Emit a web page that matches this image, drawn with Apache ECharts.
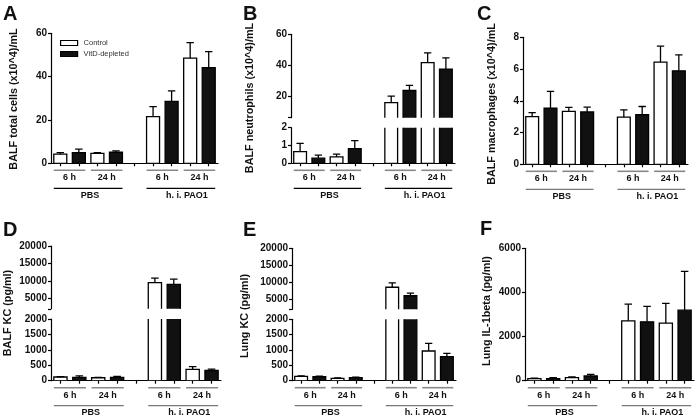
<!DOCTYPE html>
<html><head><meta charset="utf-8">
<script src="https://cdn.jsdelivr.net/npm/echarts@6/dist/echarts.min.js"></script>
<style>html,body{margin:0;padding:0;background:#fff}#c{width:696px;height:419px}</style>
</head><body><div id="c"></div>
<script>
// ---- data ----
const categories = ['PBS 6 h Control','PBS 6 h VitD','PBS 24 h Control','PBS 24 h VitD','',
  'PAO1 6 h Control','PAO1 6 h VitD','PAO1 24 h Control','PAO1 24 h VitD'];
const controlSlots = [0, 2, 5, 7];
const vitdSlots = [1, 3, 6, 8];
const timeLabels = ['6 h', '24 h', '6 h', '24 h'];
const groupLabels = ['PBS', 'h. i. PAO1'];
const seriesNames = ['Control', 'VitD-depleted'];
const panelLetters = ['A', 'B', 'C', 'D', 'E', 'F'];
const yTitles = ['BALF total cells (x10^4)/mL', 'BALF neutrophils (x10^4)/mL', 'BALF macrophages (x10^4)/mL',
  'BALF KC (pg/ml)', 'Lung KC (pg/ml)', 'Lung IL-1beta (pg/ml)'];

// order within each array: PBS 6 h, PBS 24 h, PAO1 6 h, PAO1 24 h
const aControl = [4.2, 4.6, 21.5, 48.5];
const aControlSD = [0.7, 0.3, 4.7, 7.2];
const aVitD = [4.9, 5.1, 28.6, 44.2];
const aVitDSD = [1.6, 0.6, 4.8, 7.3];

const bControl = [0.66, 0.36, 15.8, 41.7];
const bControlSD = [0.46, 0.15, 4.2, 6.3];
const bVitD = [0.29, 0.83, 23.6, 37.5];
const bVitDSD = [0.17, 0.44, 3.3, 7.3];

const cControl = [3.0, 3.33, 2.97, 6.44];
const cControlSD = [0.26, 0.25, 0.46, 1.0];
const cVitD = [3.53, 3.3, 3.12, 5.89];
const cVitDSD = [1.06, 0.3, 0.52, 1.0];

const dControl = [120, 96, 9500, 364];
const dControlSD = [15, 12, 1300, 90];
const dVitD = [107, 107, 9000, 330];
const dVitDSD = [50, 30, 1500, 45];

const eControl = [140, 75, 8500, 967];
const eControlSD = [20, 20, 1300, 250];
const eVitD = [128, 97, 6000, 783];
const eVitDSD = [22, 21, 800, 110];

const fControl = [91, 136, 2712, 2606];
const fControlSD = [30, 31, 758, 894];
const fVitD = [91, 212, 2667, 3197];
const fVitDSD = [45, 76, 697, 1758];

// axis tick labels
const aTicks = [0, 20, 40, 60];
const bTopTicks = [20, 40, 60];
const bBottomTicks = [0, 1, 2];
const cTicks = [0, 2, 4, 6, 8];
const kcTopTicks = [5000, 10000, 15000, 20000];
const kcBottomTicks = [0, 500, 1000, 1500, 2000];
const fTicks = [0, 2000, 4000, 6000];

// ---- layout ----
const FONT = "'Liberation Sans', Arial, Helvetica, sans-serif";
const panels = [
  {ctrl: aControl, ctrlSD: aControlSD, vit: aVitD, vitSD: aVitDSD, left: 51, width: 167,
   segs: [{top: 33.3, height: 130, min: 0, max: 60, ticks: aTicks}],
   letterPos: [3, 4], titlePos: [14, 99], groupColor: '#000'},
  {ctrl: bControl, ctrlSD: bControlSD, vit: bVitD, vitSD: bVitDSD, left: 291, width: 164,
   segs: [{top: 34.3, height: 83.4, min: 6, max: 60, ticks: bTopTicks},
          {top: 127.7, height: 35.6, min: 0, max: 2, ticks: bBottomTicks}],
   letterPos: [243, 4], titlePos: [250, 98], groupColor: '#000'},
  {ctrl: cControl, ctrlSD: cControlSD, vit: cVitD, vitSD: cVitDSD, left: 523, width: 165,
   segs: [{top: 37.3, height: 127, min: 0, max: 8, ticks: cTicks}],
   letterPos: [477, 4], titlePos: [492, 104], groupColor: '#777'},
  {ctrl: dControl, ctrlSD: dControlSD, vit: dVitD, vitSD: dVitDSD, left: 51, width: 170,
   segs: [{top: 246, height: 62.8, min: 2000, max: 20000, ticks: kcTopTicks},
          {top: 319, height: 61.7, min: 0, max: 2000, ticks: kcBottomTicks}],
   letterPos: [3, 220], titlePos: [8, 313], groupColor: '#777'},
  {ctrl: eControl, ctrlSD: eControlSD, vit: eVitD, vitSD: eVitDSD, left: 292, width: 164,
   segs: [{top: 248.3, height: 61, min: 2000, max: 20000, ticks: kcTopTicks},
          {top: 319.3, height: 61.4, min: 0, max: 2000, ticks: kcBottomTicks}],
   letterPos: [243, 220], titlePos: [245, 316], groupColor: '#777'},
  {ctrl: fControl, ctrlSD: fControlSD, vit: fVitD, vitSD: fVitDSD, left: 525, width: 169,
   segs: [{top: 248.3, height: 132.4, min: 0, max: 6000, ticks: fTicks}],
   letterPos: [480, 219], titlePos: [487, 311], groupColor: '#777'}
];

const AX = {color: '#000', width: 1.2};
function barRenderer(fill) {
  return function (params, api) {
    const xi = api.value(0), v = api.value(1);
    const p0 = api.coord([xi, 0]);
    const p1 = api.coord([xi, v]);
    const bw = api.size([1, 0])[0] * 0.7;
    return {type: 'rect', shape: {x: p1[0] - bw / 2, y: p1[1], width: bw, height: p0[1] - p1[1]},
      style: {fill: fill, stroke: '#000', lineWidth: 1.3}};
  };
}
function errRenderer(params, api) {
  const xi = api.value(0), v = api.value(1), e = api.value(2);
  const p1 = api.coord([xi, v]);
  const p2 = api.coord([xi, v + e]);
  const cap = api.size([1, 0])[0] * 0.2;
  return {type: 'group', children: [
    {type: 'line', shape: {x1: p1[0], y1: p1[1], x2: p2[0], y2: p2[1]}, style: {stroke: '#000', lineWidth: 1.3}},
    {type: 'line', shape: {x1: p2[0] - cap, y1: p2[1], x2: p2[0] + cap, y2: p2[1]}, style: {stroke: '#000', lineWidth: 1.3}}
  ]};
}

const grids = [], xAxes = [], yAxes = [], series = [];
panels.forEach(function (p) {
  p.segs.forEach(function (s, si) {
    const gi = grids.length;
    const isBottom = si === p.segs.length - 1;
    if (isBottom) p.bottomIndex = gi;
    grids.push({left: p.left, width: p.width, top: s.top, height: s.height});
    xAxes.push({type: 'category', gridIndex: gi, data: categories, boundaryGap: true,
      axisLine: {show: isBottom, onZero: false, lineStyle: AX},
      axisTick: {show: isBottom, alignWithLabel: true, interval: 0, length: 3, lineStyle: AX},
      axisLabel: {show: false}, splitLine: {show: false}});
    const tickVals = s.ticks.indexOf(s.min) < 0 ? [s.min].concat(s.ticks) : s.ticks;
    yAxes.push({type: 'value', gridIndex: gi, min: s.min, max: s.max,
      axisLine: {show: true, lineStyle: AX},
      axisTick: {show: true, length: 3, lineStyle: AX, customValues: tickVals},
      axisLabel: {customValues: s.ticks, fontFamily: FONT, fontWeight: 'bold', fontSize: 10, color: '#111', margin: 4,
        formatter: function (v) { return String(v); }},
      splitLine: {show: false}});
    const ctrlData = controlSlots.map(function (c, i) { return [c, p.ctrl[i], p.ctrlSD[i]]; });
    const vitData = vitdSlots.map(function (c, i) { return [c, p.vit[i], p.vitSD[i]]; });
    series.push({type: 'custom', name: seriesNames[0], xAxisIndex: gi, yAxisIndex: gi, clip: true,
      itemStyle: {color: '#fff', borderColor: '#000'}, encode: {x: 0, y: 1},
      renderItem: barRenderer('#fff'), data: ctrlData});
    series.push({type: 'custom', name: seriesNames[1], xAxisIndex: gi, yAxisIndex: gi, clip: true,
      itemStyle: {color: '#111', borderColor: '#000'}, encode: {x: 0, y: 1},
      renderItem: barRenderer('#111'), data: vitData});
    series.push({type: 'custom', name: 'SD', xAxisIndex: gi, yAxisIndex: gi, clip: true,
      encode: {x: 0, y: 1}, renderItem: errRenderer, data: ctrlData.concat(vitData)});
  });
});

const chart = echarts.init(document.getElementById('c'), null, {renderer: 'canvas'});
chart.setOption({
  animation: false,
  backgroundColor: '#fff',
  grid: grids, xAxis: xAxes, yAxis: yAxes, series: series,
  legend: {orient: 'vertical', left: 55, top: 34, itemWidth: 17, itemHeight: 5, itemGap: 3, icon: 'rect',
    selectedMode: false,
    textStyle: {fontFamily: FONT, fontSize: 7.5, color: '#333', lineHeight: 8, padding: [0, 0, 0, 1]},
    data: [
      {name: seriesNames[0], itemStyle: {color: '#fff', borderColor: '#000', borderWidth: 1.2}},
      {name: seriesNames[1], itemStyle: {color: '#111', borderColor: '#000', borderWidth: 1.2}}
    ]}
});

// ---- annotations (brackets, titles, letters) computed from the axes ----
const graphics = [];
panels.forEach(function (p, pi) {
  const gi = p.bottomIndex;
  const px = function (i) { return chart.convertToPixel({xAxisIndex: gi}, i); };
  const y0 = chart.convertToPixel({yAxisIndex: gi}, 0);
  const cw = px(1) - px(0);
  const pairs = [[0, 1], [2, 3], [5, 6], [7, 8]];
  pairs.forEach(function (pr, k) {
    const x1 = px(pr[0]) - cw * 0.35, x2 = px(pr[1]) + cw * 0.35;
    graphics.push({type: 'line', shape: {x1: x1, y1: y0 + 7, x2: x2, y2: y0 + 7}, style: {stroke: '#888', lineWidth: 1.6}, silent: true});
    graphics.push({type: 'text', x: (x1 + x2) / 2, y: y0 + 14.5, silent: true,
      style: {text: timeLabels[k], font: 'bold 9px ' + FONT, fill: '#111', textAlign: 'center', textVerticalAlign: 'middle'}});
  });
  [[0, 3], [5, 8]].forEach(function (gr, k) {
    const x1 = px(gr[0]) - cw * 0.35, x2 = px(gr[1]) + cw * 0.35;
    graphics.push({type: 'line', shape: {x1: x1, y1: y0 + 25, x2: x2, y2: y0 + 25}, style: {stroke: p.groupColor, lineWidth: 1.3}, silent: true});
    graphics.push({type: 'text', x: (x1 + x2) / 2 + (k === 1 ? 6 : 2), y: y0 + 32, silent: true,
      style: {text: groupLabels[k], font: 'bold 9px ' + FONT, fill: '#111', textAlign: 'center', textVerticalAlign: 'middle'}});
  });
  graphics.push({type: 'text', x: p.titlePos[0], y: p.titlePos[1], rotation: Math.PI / 2, silent: true,
    style: {text: yTitles[pi], font: 'bold 10.8px ' + FONT, fill: '#111', textAlign: 'center', textVerticalAlign: 'middle'}});
  graphics.push({type: 'text', x: p.letterPos[0], y: p.letterPos[1], silent: true,
    style: {text: panelLetters[pi], font: 'bold 20px ' + FONT, fill: '#111', textAlign: 'left', textVerticalAlign: 'top'}});
});
chart.setOption({graphic: graphics});
</script>
</body></html>
